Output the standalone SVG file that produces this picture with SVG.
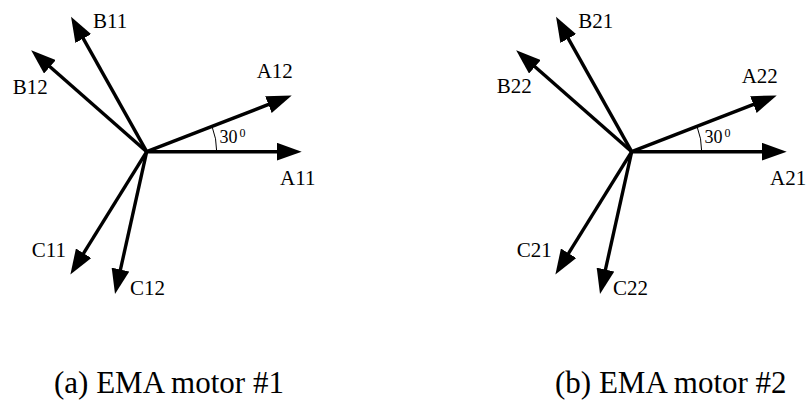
<svg xmlns="http://www.w3.org/2000/svg" width="810" height="401" viewBox="0 0 810 401">
<style>
text{font-family:'Liberation Serif','Times New Roman','DejaVu Serif',serif;fill:#000}
.lbl{font-size:21px}
.ang{font-size:18px}
.sup{font-size:12px}
.cap{font-size:31px}
.vec{stroke:#000;stroke-width:3.4;fill:none;marker-end:url(#ah)}
.arc{stroke:#000;stroke-width:1;fill:none}
</style>
<defs>
<marker id="ah" markerUnits="userSpaceOnUse" markerWidth="26" markerHeight="18" refX="3" refY="9" orient="auto" viewBox="0 0 26 18">
<path d="M0,0 L25,9 L0,18 z" fill="#000"/>
</marker>
</defs>
<rect width="810" height="401" fill="#fff"/>

<g id="motor1" font-family="Liberation Serif, serif">
<g id="connectors1">
<path class="vec" d="M146.7,151.7 L279.7,151.7"/>
<path class="vec" d="M146.7,151.7 L271.2,103.45"/>
<path class="vec" d="M146.7,151.7 L81.8,35.9"/>
<path class="vec" d="M146.7,151.7 L47.7,64.8"/>
<path class="vec" d="M146.7,151.7 L82,255.8"/>
<path class="vec" d="M146.7,151.7 L119.8,272.5"/>
<path class="arc" d="M216.7,151.7 A70,70 0 0 0 212,126.4"/>
</g>
<g id="A11"><text class="lbl" x="280" y="185">A11</text></g>
<g id="A12"><text class="lbl" x="256.7" y="78.3">A12</text></g>
<g id="B11"><text class="lbl" x="93" y="28">B11</text></g>
<g id="B12"><text class="lbl" x="12.7" y="94">B12</text></g>
<g id="C11"><text class="lbl" x="31.7" y="256.7">C11</text></g>
<g id="C12"><text class="lbl" x="130" y="295">C12</text></g>
<g id="angle1"><text class="ang" x="219.5" y="143.3">30</text><text class="sup" x="239.5" y="136.7">0</text></g>
<g id="caption1"><text class="cap" x="54" y="393">(a) EMA motor #1</text></g>
</g>

<g id="motor2" font-family="Liberation Serif, serif">
<g id="connectors2" transform="translate(485,0)">
<path class="vec" d="M146.7,151.7 L279.7,151.7"/>
<path class="vec" d="M146.7,151.7 L271.2,103.45"/>
<path class="vec" d="M146.7,151.7 L81.8,35.9"/>
<path class="vec" d="M146.7,151.7 L47.7,64.8"/>
<path class="vec" d="M146.7,151.7 L82,255.8"/>
<path class="vec" d="M146.7,151.7 L119.8,272.5"/>
<path class="arc" d="M216.7,151.7 A70,70 0 0 0 212,126.4"/>
</g>
<g id="A21"><text class="lbl" x="770" y="185">A21</text></g>
<g id="A22"><text class="lbl" x="741.7" y="83">A22</text></g>
<g id="B21"><text class="lbl" x="578.3" y="27.5">B21</text></g>
<g id="B22"><text class="lbl" x="496.7" y="93">B22</text></g>
<g id="C21"><text class="lbl" x="516.7" y="256.7">C21</text></g>
<g id="C22"><text class="lbl" x="613" y="295">C22</text></g>
<g id="angle2"><text class="ang" x="704.5" y="143.3">30</text><text class="sup" x="724.5" y="136.7">0</text></g>
<g id="caption2"><text class="cap" x="555" y="393">(b) EMA motor #2</text></g>
</g>
</svg>
